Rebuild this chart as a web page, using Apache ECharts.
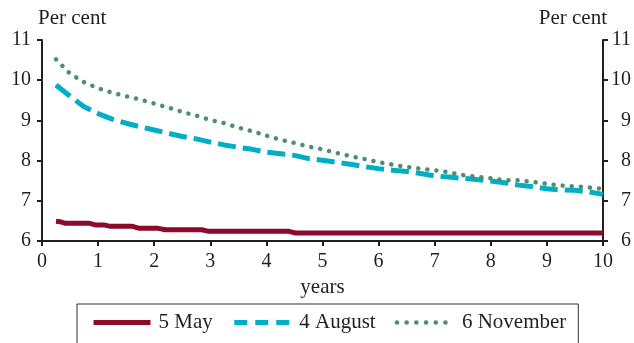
<!DOCTYPE html>
<html>
<head>
<meta charset="utf-8">
<script src="https://cdn.jsdelivr.net/npm/echarts@6/dist/echarts.min.js"></script>
<style>
  html, body { margin: 0; padding: 0; background: #fff; }
  #chart { width: 634px; height: 343px; }
</style>
</head>
<body>
<div id="chart"></div>
<script>
// Maturity (years) grid for the August and November curves
const tenors = [0.25, 0.5, 0.75, 1, 1.25, 1.5, 1.75, 2, 2.25, 2.5, 2.75, 3, 3.25, 3.5, 3.75, 4,
  4.25, 4.5, 4.75, 5, 5.25, 5.5, 5.75, 6, 6.25, 6.5, 6.75, 7, 7.25, 7.5, 7.75, 8,
  8.25, 8.5, 8.75, 9, 9.25, 9.5, 9.75, 10];

const augustValues = [9.88, 9.60, 9.34, 9.17, 9.03, 8.93, 8.84, 8.76, 8.68, 8.60, 8.54, 8.46,
  8.39, 8.33, 8.28, 8.21, 8.17, 8.13, 8.05, 8.01, 7.96, 7.91, 7.85, 7.80, 7.76, 7.73, 7.68,
  7.62, 7.59, 7.56, 7.53, 7.49, 7.45, 7.39, 7.35, 7.30, 7.27, 7.26, 7.22, 7.16];

const novemberValues = [10.52, 10.16, 9.95, 9.80, 9.69, 9.60, 9.52, 9.42, 9.32, 9.21, 9.12, 9.01,
  8.93, 8.82, 8.73, 8.62, 8.52, 8.44, 8.35, 8.28, 8.19, 8.11, 8.04, 7.96, 7.90, 7.84, 7.80,
  7.76, 7.71, 7.64, 7.60, 7.56, 7.51, 7.51, 7.47, 7.42, 7.38, 7.36, 7.33, 7.30];

// The May curve moves in small steps; its break points
const mayTenors = [0.25, 0.32, 0.42, 0.85, 0.95, 1.1, 1.2, 1.6, 1.72, 2.05, 2.2, 2.85, 2.97, 4.4, 4.52, 10];
const mayValues = [6.49, 6.48, 6.44, 6.44, 6.40, 6.40, 6.37, 6.37, 6.32, 6.32, 6.28, 6.28, 6.24, 6.24, 6.20, 6.20];

const seriesNames = ['5 May', '4 August', '6 November'];
const xTicks = [0, 1, 2, 3, 4, 5, 6, 7, 8, 9, 10];
const yTicks = [6, 7, 8, 9, 10, 11];

const pair = (xs, ys) => xs.map((x, i) => [x, ys[i]]);

const FONT = 'Liberation Serif';
const INK = '#231f20';
const RED = '#8c0a2c';
const CYAN = '#00aec7';
const GREEN = '#4a8f70';
const LABEL_SIZE = 20;
const WORD_SIZE = 21;

const chart = echarts.init(document.getElementById('chart'), null, { renderer: 'canvas' });

const yAxisBase = {
  type: 'value',
  min: yTicks[0],
  max: yTicks[yTicks.length - 1],
  interval: 1,
  splitLine: { show: false },
  axisLine: { show: true, lineStyle: { color: INK, width: 2 } },
  axisTick: { show: true, inside: false, length: 5, lineStyle: { color: INK, width: 2 } },
  nameLocation: 'end',
  nameGap: 22
};

chart.setOption({
  animation: false,
  textStyle: { fontFamily: FONT, color: INK },
  grid: { left: 42, right: 29, top: 40, bottom: 102, containLabel: false },
  legend: {
    data: [
      { name: seriesNames[0], lineStyle: { width: 5, color: RED } },
      { name: seriesNames[1], lineStyle: { type: [13, 8], width: 5 } },
      { name: seriesNames[2], lineStyle: { type: [0.1, 9.6], width: 4.5, cap: 'round' } }
    ],
    left: 77,
    top: 304,
    orient: 'horizontal',
    padding: [8, 12, 24, 14],
    itemGap: 19,
    itemWidth: 57,
    itemHeight: 14,
    itemStyle: { opacity: 0 },
    borderColor: '#333',
    borderWidth: 1,
    borderRadius: 0,
    textStyle: { fontFamily: FONT, fontSize: WORD_SIZE, color: INK, padding: [0, 0, 0, 3] }
  },
  xAxis: {
    type: 'value',
    min: xTicks[0],
    max: xTicks[xTicks.length - 1],
    interval: 1,
    name: 'years',
    nameLocation: 'middle',
    nameGap: 36,
    nameTextStyle: { fontFamily: FONT, fontSize: WORD_SIZE, color: INK },
    splitLine: { show: false },
    axisLine: { lineStyle: { color: INK, width: 2 } },
    axisTick: { show: true, inside: false, length: 5, lineStyle: { color: INK, width: 2 } },
    axisLabel: { fontFamily: FONT, fontSize: LABEL_SIZE, color: INK, margin: 11 }
  },
  yAxis: [
    Object.assign({}, yAxisBase, {
      position: 'left',
      name: 'Per cent',
      nameTextStyle: { fontFamily: FONT, fontSize: WORD_SIZE, color: INK, align: 'left', verticalAlign: 'middle', padding: [0, 0, 0, -4] },
      axisLabel: { fontFamily: FONT, fontSize: LABEL_SIZE, color: INK, margin: 11 }
    }),
    Object.assign({}, yAxisBase, {
      position: 'right',
      name: 'Per cent',
      nameTextStyle: { fontFamily: FONT, fontSize: WORD_SIZE, color: INK, align: 'right', verticalAlign: 'middle', padding: [0, -4, 0, 0] },
      axisLabel: { fontFamily: FONT, fontSize: LABEL_SIZE, color: INK, margin: 28, align: 'right' }
    })
  ],
  series: [
    {
      name: seriesNames[0],
      type: 'line',
      data: pair(mayTenors, mayValues),
      symbol: 'none',
      color: RED,
      lineStyle: { color: RED, width: 5, cap: 'butt', join: 'round' },
      z: 3
    },
    {
      name: seriesNames[1],
      type: 'line',
      data: pair(tenors, augustValues),
      symbol: 'none',
      color: CYAN,
      lineStyle: { color: CYAN, width: 5, type: [18, 7], cap: 'butt' },
      z: 2
    },
    {
      name: seriesNames[2],
      type: 'line',
      data: pair(tenors, novemberValues),
      symbol: 'none',
      color: GREEN,
      lineStyle: { color: GREEN, width: 4.5, type: [0.1, 9], cap: 'round' },
      z: 2
    }
  ]
});
</script>
</body>
</html>
